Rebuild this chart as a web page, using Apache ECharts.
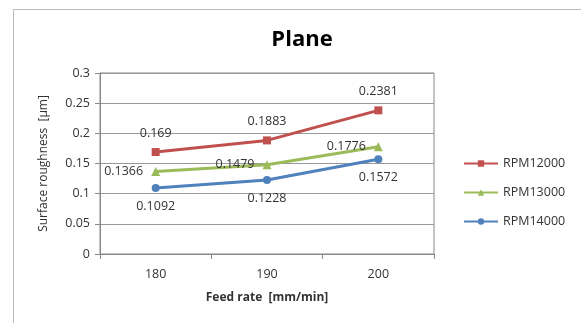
<!DOCTYPE html>
<html><head><meta charset="utf-8">
<script src="https://cdn.jsdelivr.net/npm/echarts@6/dist/echarts.min.js"></script>
<style>html,body{margin:0;padding:0;background:#fff}#c{width:581px;height:323px}</style>
</head><body><div id="c"></div>
<script>
const categories = ['180', '190', '200'];
const rpm12000 = [0.169, 0.1883, 0.2381];
const rpm13000 = [0.1366, 0.1479, 0.1776];
const rpm14000 = [0.1092, 0.1228, 0.1572];
const seriesNames = ['RPM12000', 'RPM13000', 'RPM14000'];

const font = 'Open Sans';
const chart = echarts.init(document.getElementById('c'));
const lbl = (pos) => ({show: true, position: pos, distance: 8, color: '#333', fontFamily: font, fontSize: 12.5, formatter: p => String(p.value)});
chart.setOption({
  animation: false,
  title: {text: 'Plane', left: 297, top: 24, textAlign: 'center',
    textStyle: {fontFamily: font, fontSize: 22, fontWeight: 'bold', color: '#000'}},
  graphic: [{type: 'rect', shape: {x: 13.5, y: 9.5, width: 600, height: 400}, style: {fill: 'none', stroke: '#bbb', lineWidth: 1}}],
  grid: {left: 100, right: 147, top: 73, bottom: 69, show: true, borderColor: '#888', borderWidth: 1},
  legend: {orient: 'vertical', left: 458, top: 152, itemGap: 16, itemWidth: 34, itemHeight: 8,
    textStyle: {fontFamily: font, fontSize: 12.5, color: '#333'},
    data: seriesNames},
  xAxis: {type: 'category', data: categories, boundaryGap: true,
    name: 'Feed rate  [mm/min]', nameLocation: 'middle', nameGap: 38,
    nameTextStyle: {fontFamily: font, fontSize: 12, fontWeight: 'bold', color: '#333'},
    axisLine: {lineStyle: {color: '#888'}}, axisTick: {show: true, length: 5, lineStyle: {color: '#888'}},
    axisLabel: {fontFamily: font, fontSize: 12.5, color: '#333', margin: 14}},
  yAxis: {type: 'value', min: 0, max: 0.3, interval: 0.05,
    name: 'Surface roughness  [μm]', nameLocation: 'middle', nameGap: 50,
    nameTextStyle: {fontFamily: font, fontSize: 12, color: '#333'},
    axisLine: {show: true, lineStyle: {color: '#888'}}, axisTick: {show: true, length: 5, inside: false, lineStyle: {color: '#888'}},
    splitLine: {lineStyle: {color: '#999'}},
    axisLabel: {fontFamily: font, fontSize: 12.5, color: '#333', margin: 10, formatter: v => String(+v.toFixed(2))}},
  series: [
    {name: seriesNames[0], type: 'line', data: rpm12000, symbol: 'rect', symbolSize: 8,
      lineStyle: {color: '#C0504D', width: 3}, itemStyle: {color: '#C0504D'}, label: lbl('top')},
    {name: seriesNames[1], type: 'line', data: rpm13000, symbol: 'triangle', symbolSize: 9,
      lineStyle: {color: '#9BBB59', width: 3}, itemStyle: {color: '#9BBB59'}, label: lbl('left')},
    {name: seriesNames[2], type: 'line', data: rpm14000, symbol: 'circle', symbolSize: 8,
      lineStyle: {color: '#4F81BD', width: 3}, itemStyle: {color: '#4F81BD'}, label: lbl('bottom')}
  ]
});
</script></body></html>
